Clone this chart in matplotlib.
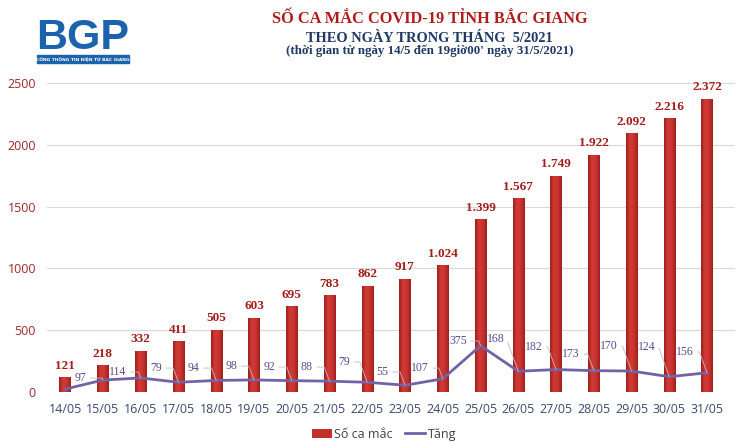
import numpy as np
import matplotlib.pyplot as plt
from matplotlib.patches import Rectangle
from matplotlib.colors import LinearSegmentedColormap

# ── Données ──────────────────────────────────────────────────────────────────
ngay = ['14/05', '15/05', '16/05', '17/05', '18/05', '19/05', '20/05', '21/05', '22/05',
        '23/05', '24/05', '25/05', '26/05', '27/05', '28/05', '29/05', '30/05', '31/05']
so_ca_mac = [121, 218, 332, 411, 505, 603, 695, 783, 862,
             917, 1024, 1399, 1567, 1749, 1922, 2092, 2216, 2372]
tang = [24, 97, 114, 79, 94, 98, 92, 88, 79,
        55, 107, 375, 168, 182, 173, 170, 124, 156]
# hauteur des étiquettes "Tăng" (mise en page, unités de l'axe y)
tang_label_y = [None, 113, 162, 194, 194, 210, 202, 202, 243,
                162, 194, 413, 429, 364, 307, 372, 364, 324]

RED = '#c2302c'
RED_TXT = '#a31d1d'
NAVY = '#1f3864'
PURPLE = '#7163a6'
SERIF = 'Liberation Serif'

fig = plt.figure(figsize=(7.37, 4.45), dpi=100)
ax = fig.add_axes([0.0638, 0.119, 0.9335, 0.736])

x = range(len(ngay))

# ── Barres (dégradé façon Excel) ─────────────────────────────────────────────
bars = ax.bar(x, so_ca_mac, width=0.3, color=RED, edgecolor='none',
              label='Số ca mắc', zorder=2)
grad = LinearSegmentedColormap.from_list('g', ['#9c1f1f', '#d23a34', '#c93330', '#9c1f1f'])
g = np.linspace(0, 1, 64).reshape(1, -1)
for b in bars:
    x0, w, h = b.get_x(), b.get_width(), b.get_height()
    im = ax.imshow(g, cmap=grad, aspect='auto', extent=(x0, x0 + w, 0, h), zorder=2)
    im.set_clip_path(b)

for i, v in enumerate(so_ca_mac):
    txt = f'{v:,}'.replace(',', '.')
    ax.text(i, v + 45, txt, ha='center', va='bottom', fontsize=9.5,
            fontweight='bold', family=SERIF, color=RED_TXT)

# ── Courbe "Tăng" ────────────────────────────────────────────────────────────
line, = ax.plot(x, tang, color=PURPLE, linewidth=2, label='Tăng', zorder=3)
for i, v in enumerate(tang):
    if tang_label_y[i] is None:
        continue
    ax.annotate(str(v), xy=(i, v), xytext=(i - 0.6, tang_label_y[i]),
                ha='center', va='center', fontsize=8.5, family=SERIF, color='#5b4a8b',
                arrowprops=dict(arrowstyle='-', color='#bdbdbd', lw=0.6,
                                shrinkA=1, shrinkB=0, relpos=(1, 0.5),
                                connectionstyle='angle,angleA=0,angleB=110,rad=0'),
                zorder=4)

# ── Axes ─────────────────────────────────────────────────────────────────────
ax.set_xlim(-0.48, 17.74)
ax.set_ylim(0, 2650)
ax.set_yticks([0, 500, 1000, 1500, 2000, 2500])
ax.set_xticks(list(x))
ax.set_xticklabels(ngay)
ax.tick_params(axis='both', length=0)
ax.tick_params(axis='y', colors='#9b2a2a', labelsize=9, pad=8)
ax.tick_params(axis='x', colors='#3b4a6b', labelsize=9, pad=8)
for lab in ax.get_xticklabels() + ax.get_yticklabels():
    lab.set_family('Open Sans')
for s in ax.spines.values():
    s.set_visible(False)
ax.grid(axis='y', color='#d9d9d9', linewidth=0.8, zorder=0)
ax.set_axisbelow(True)

leg = ax.legend([bars, line], ['Số ca mắc', 'Tăng'], loc='upper center',
                bbox_to_anchor=(0.49, -0.075), ncol=2, frameon=False,
                prop={'family': 'Open Sans', 'size': 9}, handlelength=1.6,
                handletextpad=0.2, columnspacing=1.0)
for t in leg.get_texts():
    t.set_color('#404040')

# ── Titre ────────────────────────────────────────────────────────────────────
fig.text(0.583, 0.958, 'SỐ CA MẮC COVID-19 TỈNH BẮC GIANG', ha='center', va='center',
         fontsize=11.8, fontweight='bold', family=SERIF, color='#b01c1c')
fig.text(0.583, 0.913, 'THEO NGÀY TRONG THÁNG  5/2021', ha='center', va='center',
         fontsize=10.4, fontweight='bold', family=SERIF, color=NAVY)
fig.text(0.583, 0.886, "(thời gian từ ngày 14/5 đến 19giờ00' ngày 31/5/2021)", ha='center',
         va='center', fontsize=9.25, fontweight='bold', family=SERIF, color=NAVY)

# ── Logo ─────────────────────────────────────────────────────────────────────
fig.text(0.112, 0.915, 'BGP', ha='center', va='center', fontsize=31, fontweight='bold',
         family='Liberation Sans', color='#1c63ad')
fig.patches.append(Rectangle((0.05, 0.858), 0.125, 0.018, transform=fig.transFigure,
                             color='#1c63ad'))
fig.text(0.1125, 0.867, 'CỔNG THÔNG TIN ĐIỆN TỬ BẮC GIANG', ha='center', va='center',
         fontsize=3.2, fontweight='bold', family='DejaVu Sans', color='white')

fig.savefig('out.png', dpi=100)
